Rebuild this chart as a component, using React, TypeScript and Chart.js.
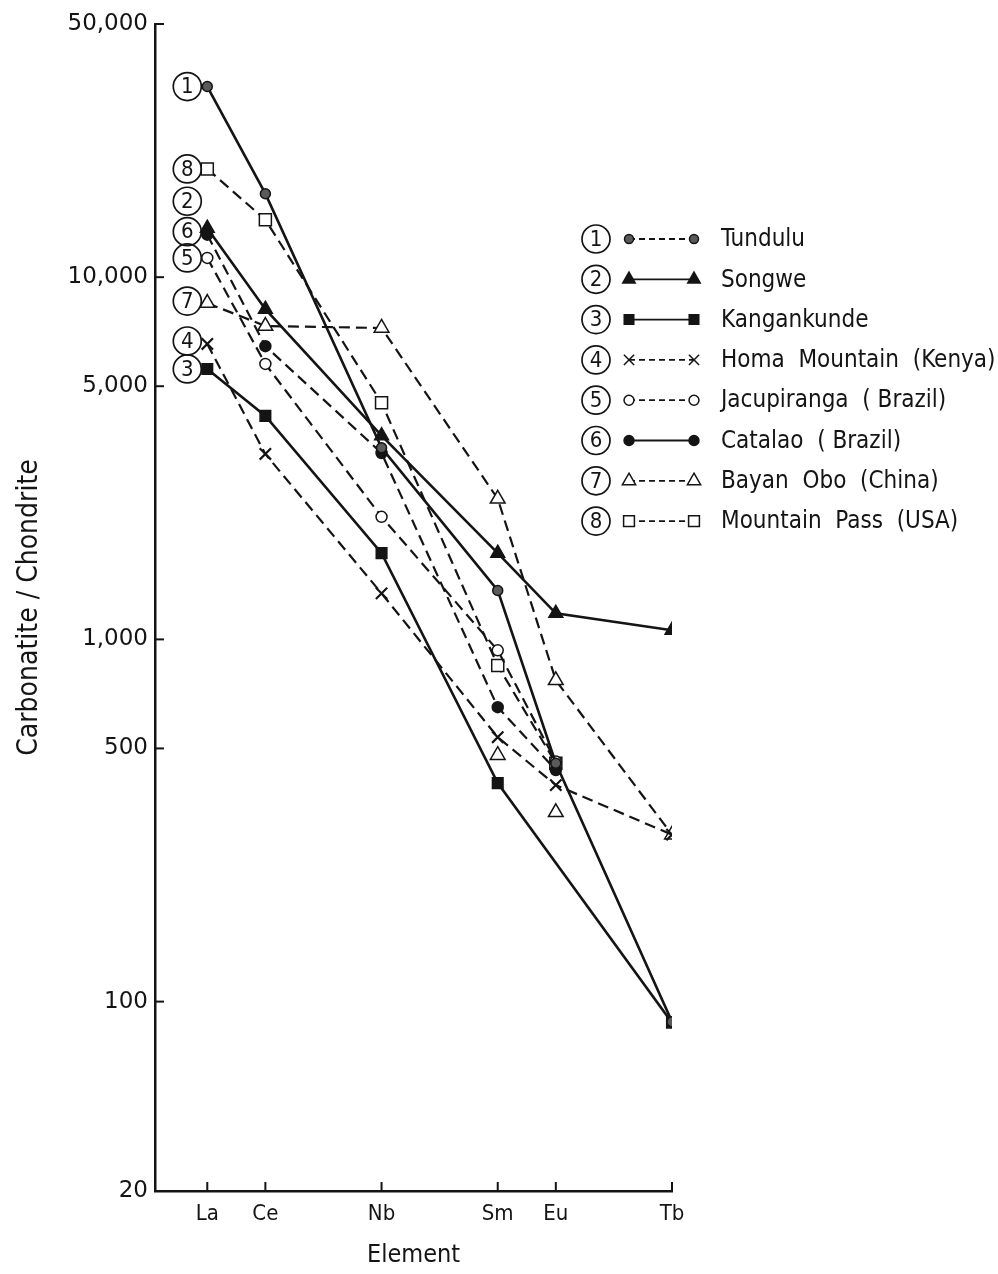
import React, { useEffect, useRef } from "react";
import { Chart, registerables } from "chart.js";
import { drawPoint } from "chart.js/helpers";

Chart.register(...registerables);

// ---- data ----
const ELEMENTS = ["La", "Ce", "Nb", "Sm", "Eu", "Tb"];
const ATOMIC_NUMBERS = [57, 58, 60, 62, 63, 65];

const SERIES_NAMES = [
  "Tundulu",
  "Songwe",
  "Kangankunde",
  "Homa  Mountain  (Kenya)",
  "Jacupiranga  ( Brazil)",
  "Catalao  ( Brazil)",
  "Bayan  Obo  (China)",
  "Mountain  Pass  (USA)",
];

const TUNDULU = [33600, 17000, 3380, 1365, 455, 88];
const SONGWE = [13650, 8160, 3650, 1730, 1180, 1060];
const KANGANKUNDE = [5580, 4140, 1730, 401, null, 87.5];
const HOMA = [6540, 3250, 1340, 537, 396, 289];
const JACUPIRANGA = [11300, 5760, 2180, 933, 460, null];
const CATALAO = [13100, 6450, 3270, 650, 436, null];
const BAYAN_OBO = [8480, 7330, 7240, 2445, 771, 289];
const MOUNTAIN_PASS = [19900, 14400, 4500, 847, 455, null];
const BAYAN_OBO_EXTRA = [null, null, null, 479, 333, null];

const Y_TICK_VALUES = [30, 100, 500, 1000, 5000, 10000, 50000];
const Y_TICK_LABELS = ["20", "100", "500", "1,000", "5,000", "10,000", "50,000"];

// ---- styles ----
const INK = "#141414";
const WORD_FONT = "'DejaVu Sans Condensed', 'Liberation Sans Narrow', 'DejaVu Sans', sans-serif";
const NUM_FONT = "'DejaVu Sans', sans-serif";

type Style = {
  pointStyle: string;
  radius: number;
  fill: string;
  dash: number[];
  width: number;
  legendDash: number[];
};

const STYLES: Style[] = [
  { pointStyle: "circle", radius: 5, fill: "#5a5a5a", dash: [], width: 2.6, legendDash: [6, 4] },
  { pointStyle: "triangle", radius: 8, fill: INK, dash: [], width: 2.6, legendDash: [] },
  { pointStyle: "rect", radius: 7.5, fill: INK, dash: [], width: 2.6, legendDash: [] },
  { pointStyle: "crossRot", radius: 8, fill: INK, dash: [11, 6], width: 2.2, legendDash: [6, 4] },
  { pointStyle: "circle", radius: 5.5, fill: "#ffffff", dash: [11, 6], width: 2.2, legendDash: [6, 4] },
  { pointStyle: "circle", radius: 5.5, fill: INK, dash: [11, 6], width: 2.2, legendDash: [] },
  { pointStyle: "triangle", radius: 8.5, fill: "#ffffff", dash: [11, 6], width: 2.2, legendDash: [6, 4] },
  { pointStyle: "rect", radius: 8.5, fill: "#ffffff", dash: [11, 6], width: 2.2, legendDash: [6, 4] },
];

const LABEL_OFFSETS = [0, -27, 0, -3, 0, -3, -2, 0];

const toPoints = (vals: (number | null)[]) =>
  ATOMIC_NUMBERS.map((x, i) => ({ x, y: vals[i] }));

const circledNumber = (ctx: CanvasRenderingContext2D, n: number, x: number, y: number) => {
  ctx.save();
  ctx.beginPath();
  ctx.arc(x, y, 14, 0, Math.PI * 2);
  ctx.lineWidth = 1.7;
  ctx.strokeStyle = INK;
  ctx.stroke();
  ctx.fillStyle = INK;
  ctx.font = `22px ${WORD_FONT}`;
  ctx.textAlign = "center";
  ctx.textBaseline = "middle";
  ctx.fillText(String(n), x, y + 1);
  ctx.restore();
};

const annotatePlugin = {
  id: "annotate",
  afterDraw(chart: any) {
    const ctx: CanvasRenderingContext2D = chart.ctx;
    const xs = chart.scales.x;
    const ys = chart.scales.y;
    const area = chart.chartArea;
    // inward tick marks
    ctx.save();
    ctx.strokeStyle = INK;
    ctx.lineWidth = 2;
    Y_TICK_VALUES.forEach((v) => {
      const py = ys.getPixelForValue(v);
      ctx.beginPath();
      ctx.moveTo(area.left, py);
      ctx.lineTo(area.left + 9, py);
      ctx.stroke();
    });
    ATOMIC_NUMBERS.forEach((v) => {
      const px = xs.getPixelForValue(v);
      ctx.beginPath();
      ctx.moveTo(px, area.bottom);
      ctx.lineTo(px, area.bottom - 9);
      ctx.stroke();
    });
    ctx.restore();

    // circled series numbers next to first points
    SERIES_NAMES.forEach((_, i) => {
      const meta = chart.getDatasetMeta(i);
      const el = meta.data[0];
      if (!el) return;
      circledNumber(ctx, i + 1, el.x - 20, el.y + LABEL_OFFSETS[i]);
    });

    // legend
    const lx = 596;
    const ly0 = 239;
    const step = 40.3;
    SERIES_NAMES.forEach((name, i) => {
      const s = STYLES[i];
      const y = ly0 + i * step;
      circledNumber(ctx, i + 1, lx, y);
      ctx.save();
      ctx.strokeStyle = INK;
      ctx.lineWidth = 1.8;
      ctx.setLineDash(s.legendDash);
      ctx.beginPath();
      ctx.moveTo(629, y);
      ctx.lineTo(694, y);
      ctx.stroke();
      ctx.setLineDash([]);
      ctx.fillStyle = s.fill;
      ctx.strokeStyle = INK;
      ctx.lineWidth = 1.5;
      const opts = { pointStyle: s.pointStyle, radius: s.radius * 0.9, rotation: 0, borderWidth: 1.5 };
      drawPoint(ctx, opts as any, 629, y);
      drawPoint(ctx, opts as any, 694, y);
      ctx.fillStyle = INK;
      ctx.font = `24px ${WORD_FONT}`;
      ctx.textAlign = "left";
      ctx.textBaseline = "middle";
      ctx.fillText(name, 721, y + 1);
      ctx.restore();
    });
  },
};

export default function App() {
  const ref = useRef<HTMLCanvasElement | null>(null);

  useEffect(() => {
    if (!ref.current) return;
    const all = [TUNDULU, SONGWE, KANGANKUNDE, HOMA, JACUPIRANGA, CATALAO, BAYAN_OBO, MOUNTAIN_PASS];
    const datasets: any[] = all.map((vals, i) => {
      const s = STYLES[i];
      return {
        label: SERIES_NAMES[i],
        data: toPoints(vals),
        borderColor: INK,
        borderWidth: s.width,
        borderDash: s.dash,
        pointStyle: s.pointStyle,
        pointRadius: s.radius,
        pointBackgroundColor: s.fill,
        pointBorderColor: INK,
        pointBorderWidth: s.pointStyle === "crossRot" ? 2.2 : 1.5,
        spanGaps: true,
        tension: 0,
        fill: false,
      };
    });
    datasets.push({
      label: "Bayan Obo (extra)",
      data: toPoints(BAYAN_OBO_EXTRA),
      showLine: false,
      borderColor: INK,
      pointStyle: "triangle",
      pointRadius: 8.5,
      pointBackgroundColor: "#ffffff",
      pointBorderColor: INK,
      pointBorderWidth: 1.5,
    });

    const chart = new Chart(ref.current, {
      type: "line",
      data: { datasets },
      plugins: [annotatePlugin],
      options: {
        responsive: false,
        animation: false,
        layout: { padding: { top: 24, right: 326, bottom: 0, left: 0 } },
        plugins: { legend: { display: false }, tooltip: { enabled: false } },
        scales: {
          x: {
            type: "linear",
            min: 56.1,
            max: 65,
            afterBuildTicks: (scale: any) => {
              scale.ticks = ATOMIC_NUMBERS.map((v) => ({ value: v }));
            },
            afterFit: (scale: any) => {
              scale.height = 83;
            },
            grid: { display: false, drawTicks: false },
            border: { display: true, color: INK, width: 2.5 },
            ticks: {
              padding: 10,
              color: INK,
              font: { size: 22, family: WORD_FONT },
              autoSkip: false,
              maxRotation: 0,
              callback: (v: any) => {
                const idx = ATOMIC_NUMBERS.indexOf(Number(v));
                return idx >= 0 ? ELEMENTS[idx] : "";
              },
            },
            title: {
              display: true,
              text: "Element",
              color: INK,
              font: { size: 25, family: WORD_FONT },
              padding: { top: 0, bottom: 4 },
            },
          },
          y: {
            type: "logarithmic",
            min: 30,
            max: 50000,
            afterBuildTicks: (scale: any) => {
              scale.ticks = Y_TICK_VALUES.map((v) => ({ value: v }));
            },
            afterFit: (scale: any) => {
              scale.width = 155;
            },
            grid: { display: false, drawTicks: false },
            border: { display: true, color: INK, width: 2.5 },
            ticks: {
              padding: 7,
              color: INK,
              font: { size: 23, family: NUM_FONT },
              autoSkip: false,
              callback: (v: any) => {
                const idx = Y_TICK_VALUES.indexOf(Number(v));
                return idx >= 0 ? Y_TICK_LABELS[idx] : "";
              },
            },
            title: {
              display: true,
              text: "Carbonatite / Chondrite",
              color: INK,
              font: { size: 28, family: WORD_FONT },
              padding: { top: 13, bottom: 0 },
            },
          },
        },
      },
    });
    return () => chart.destroy();
  }, []);

  return (
    <div style={{ position: "fixed", left: 0, top: 0, width: 998, height: 1274, background: "#fff" }}>
      <canvas ref={ref} width={998} height={1274} style={{ width: 998, height: 1274, display: "block" }} />
    </div>
  );
}
